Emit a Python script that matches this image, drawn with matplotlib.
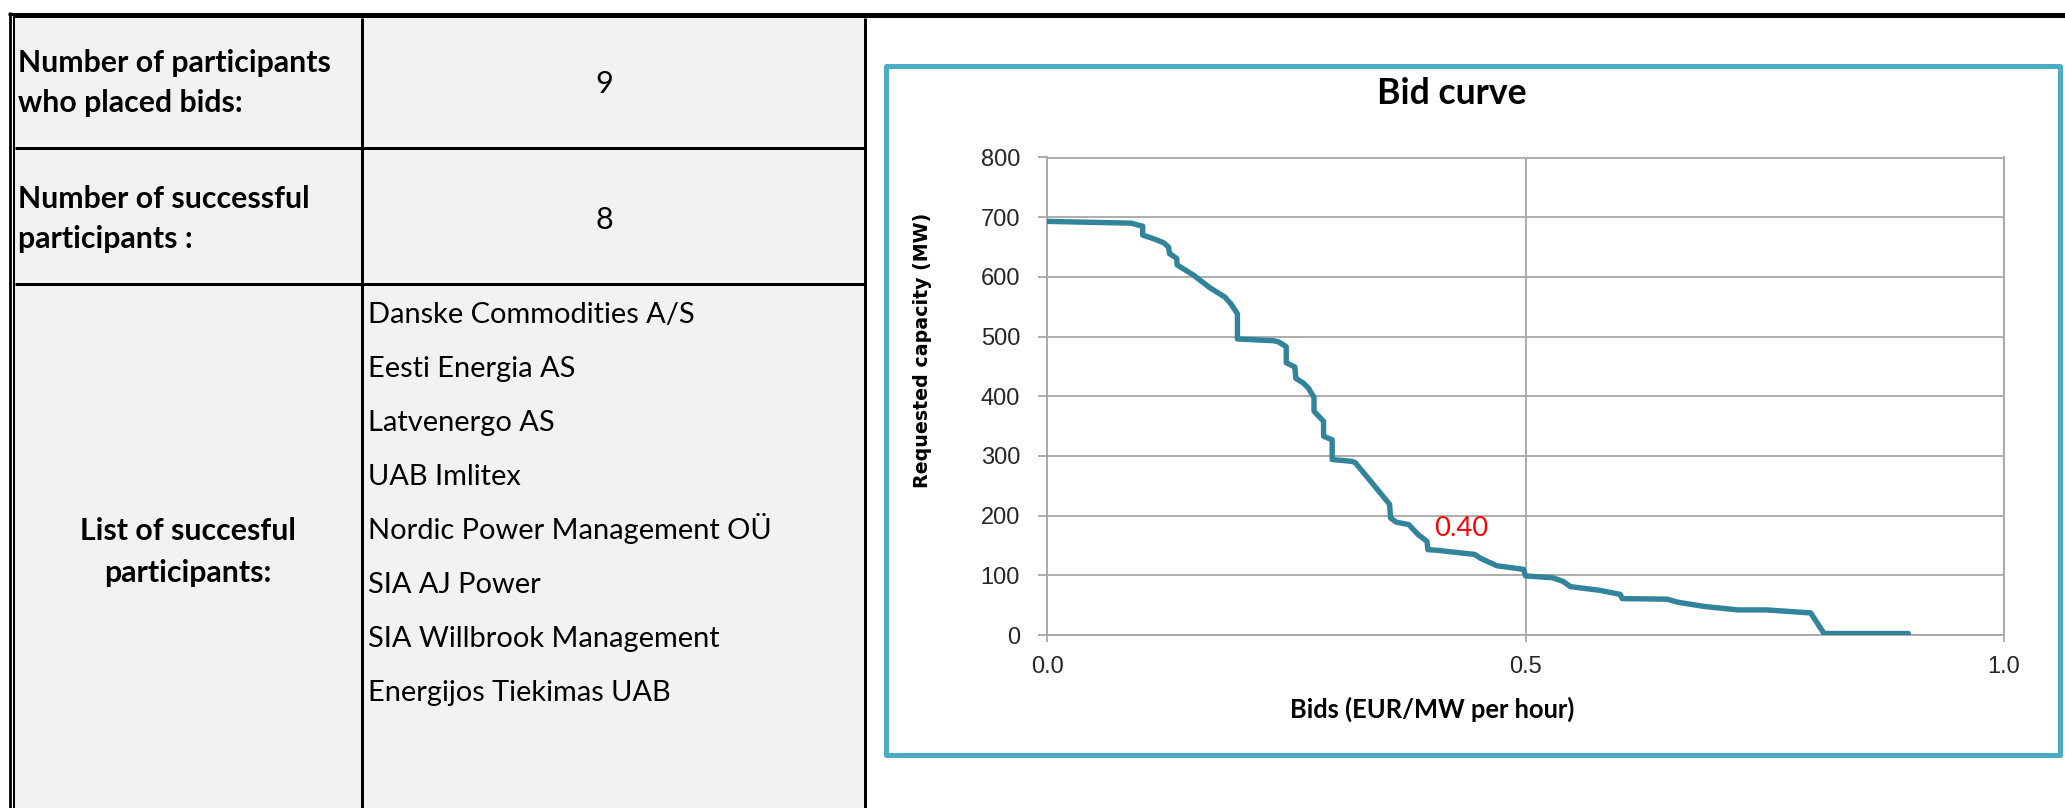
import matplotlib
matplotlib.use('Agg')
import matplotlib.pyplot as plt
from matplotlib.patches import Rectangle
from matplotlib.lines import Line2D

# ---------------- data ----------------
bid_price = [0.000, 0.088, 0.097, 0.100, 0.100, 0.113, 0.122, 0.127, 0.128, 0.1355,
             0.136, 0.153, 0.170, 0.186, 0.193, 0.199, 0.199, 0.237, 0.242, 0.250,
             0.250, 0.259, 0.260, 0.268, 0.273, 0.279, 0.279, 0.289, 0.289, 0.298,
             0.298, 0.318, 0.322, 0.358, 0.359, 0.365, 0.378, 0.388, 0.397, 0.398,
             0.407, 0.447, 0.4525, 0.470, 0.498, 0.500, 0.528, 0.539, 0.547, 0.577,
             0.599, 0.601, 0.648, 0.659, 0.686, 0.722, 0.752, 0.798, 0.812, 0.900]
capacity = [693, 690, 686, 685, 670, 663, 657, 650, 639, 631,
            620, 603, 582, 566, 553, 538, 496, 493, 491, 483,
            456, 449, 430, 422, 414, 398, 375, 358, 333, 327,
            294, 291, 289, 219, 196, 189, 185, 168, 157, 143,
            142, 135, 129, 116, 110, 99, 96, 90, 81, 75,
            68, 61, 60, 55, 48, 42, 42, 37, 2.5, 2.5]

y_ticks = [0, 100, 200, 300, 400, 500, 600, 700, 800]
x_ticks = [0.0, 0.5, 1.0]
x_tick_labels = ['0.0', '0.5', '1.0']
chart_title = 'Bid curve'
x_label = 'Bids (EUR/MW per hour)'
y_label = 'Requested capacity (MW)'
price_label = '0.40'
price_label_pos = (0.405, 179)

row1_label = ['Number of participants', 'who placed bids:']
row1_value = '9'
row2_label = ['Number of successful', 'participants :']
row2_value = '8'
row3_label = ['List of succesful', 'participants:']
participants = ['Danske Commodities A/S', 'Eesti Energia AS', 'Latvenergo AS',
                'UAB Imlitex', 'Nordic Power Management OÜ', 'SIA AJ Power',
                'SIA Willbrook Management', 'Energijos Tiekimas UAB']

# ---------------- figure ----------------
W, H, DPI = 2065, 808, 100
def px(v):
    return v * 72.0 / DPI

fig = plt.figure(figsize=(W / DPI, H / DPI), dpi=DPI)
fig.patch.set_facecolor('white')
bg = fig.add_axes([0, 0, 1, 1])
bg.set_xlim(0, W)
bg.set_ylim(H, 0)
bg.axis('off')
renderer = fig.canvas.get_renderer()

def fit(t, target, dim='w'):
    bb = t.get_window_extent(renderer)
    cur = bb.width if dim == 'w' else bb.height
    t.set_fontsize(t.get_fontsize() * target / cur)
    return t.get_fontsize()

# table background and lines
bg.add_patch(Rectangle((15, 18), 849, 790, fc='#F2F2F2', ec='none'))
def hline(y, x0, x1, w):
    bg.add_line(Line2D([x0, x1], [y, y], color='black', lw=px(w), solid_capstyle='butt'))
def vline(x, y0, y1, w):
    bg.add_line(Line2D([x, x], [y0, y1], color='black', lw=px(w), solid_capstyle='butt'))
hline(13.5, 8.3, W, 3)
hline(17.3, 13.3, W, 2)
vline(9.7, 12, H, 2.8)
vline(14.3, 16.3, H, 2)
vline(361.5, 18, H, 3)
vline(864.5, 18, H, 3)
hline(147.5, 15, 864, 3)
hline(283.5, 15, 864, 3)

# table texts
BOLD = dict(family='Lato', weight='bold', color='black')
REG = dict(family='Lato', color='black')
t = bg.text(18, 72, row1_label[0], ha='left', va='baseline', fontsize=20, **BOLD)
bsize = fit(t, 312)
bg.text(18, 112, row1_label[1], ha='left', va='baseline', fontsize=bsize, **BOLD)
bg.text(18, 208, row2_label[0], ha='left', va='baseline', fontsize=bsize, **BOLD)
bg.text(18, 248, row2_label[1], ha='left', va='baseline', fontsize=bsize, **BOLD)
bg.text(188, 540, row3_label[0], ha='center', va='baseline', fontsize=bsize, **BOLD)
bg.text(188, 582, row3_label[1], ha='center', va='baseline', fontsize=bsize, **BOLD)

t = bg.text(368, 323, participants[0], ha='left', va='baseline', fontsize=20, **REG)
rsize = fit(t, 328)
for i, name in enumerate(participants[1:], start=1):
    bg.text(368, 323 + 54 * i, name, ha='left', va='baseline', fontsize=rsize, **REG)
bg.text(604, 93, row1_value, ha='center', va='baseline', fontsize=rsize * 1.05, **REG)
bg.text(604, 229, row2_value, ha='center', va='baseline', fontsize=rsize * 1.05, **REG)

# chart frame
bg.add_patch(Rectangle((885.5, 65.5), 2059.5 - 885.5, 755 - 65.5,
                       fc='white', ec='#4BACC6', lw=px(5), joinstyle='round'))

# chart texts
t = bg.text(1452, 94, chart_title, ha='center', va='center', fontsize=20, **BOLD)
fit(t, 150)
t = bg.text(1432, 709, x_label, ha='center', va='center', fontsize=16, **BOLD)
fit(t, 286)
t = bg.text(923, 350, y_label, ha='center', va='center', rotation=90,
            fontsize=14, family='DejaVu Sans', weight='bold', color='black')
fit(t, 276, 'h')

# main axes
L, R, T, B = 1047, 2004, 157.5, 635
ax = fig.add_axes([L / W, 1 - B / H, (R - L) / W, (B - T) / H])
ax.set_zorder(5)
ax.patch.set_alpha(0)
GRID = '#A6A6A6'
ax.plot(bid_price, capacity, color='#31849B', lw=px(5.4),
        solid_joinstyle='round', solid_capstyle='round', zorder=3)
ax.set_xlim(0, 1)
ax.set_ylim(0, 800)
ax.set_yticks(y_ticks)
ax.set_xticks(x_ticks, x_tick_labels)
ax.grid(True, color=GRID, lw=px(1.8))
ax.set_axisbelow(True)
for s in ax.spines.values():
    s.set_color(GRID)
    s.set_linewidth(px(1.8))
ax.tick_params(axis='y', length=px(9), width=px(1.8), color=GRID, pad=px(18),
               labelsize=17, labelcolor='#262626')
ax.tick_params(axis='x', length=px(7), width=px(1.8), color=GRID, pad=px(14),
               labelsize=17, labelcolor='#262626')
for lab in ax.get_xticklabels() + ax.get_yticklabels():
    lab.set_family('Liberation Sans')

t = ax.text(price_label_pos[0], price_label_pos[1], price_label, ha='left', va='center',
            color='#FF0000', family='Lato', fontsize=16)
fit(t, 54)

fig.savefig('out.png', dpi=DPI, facecolor='white')
